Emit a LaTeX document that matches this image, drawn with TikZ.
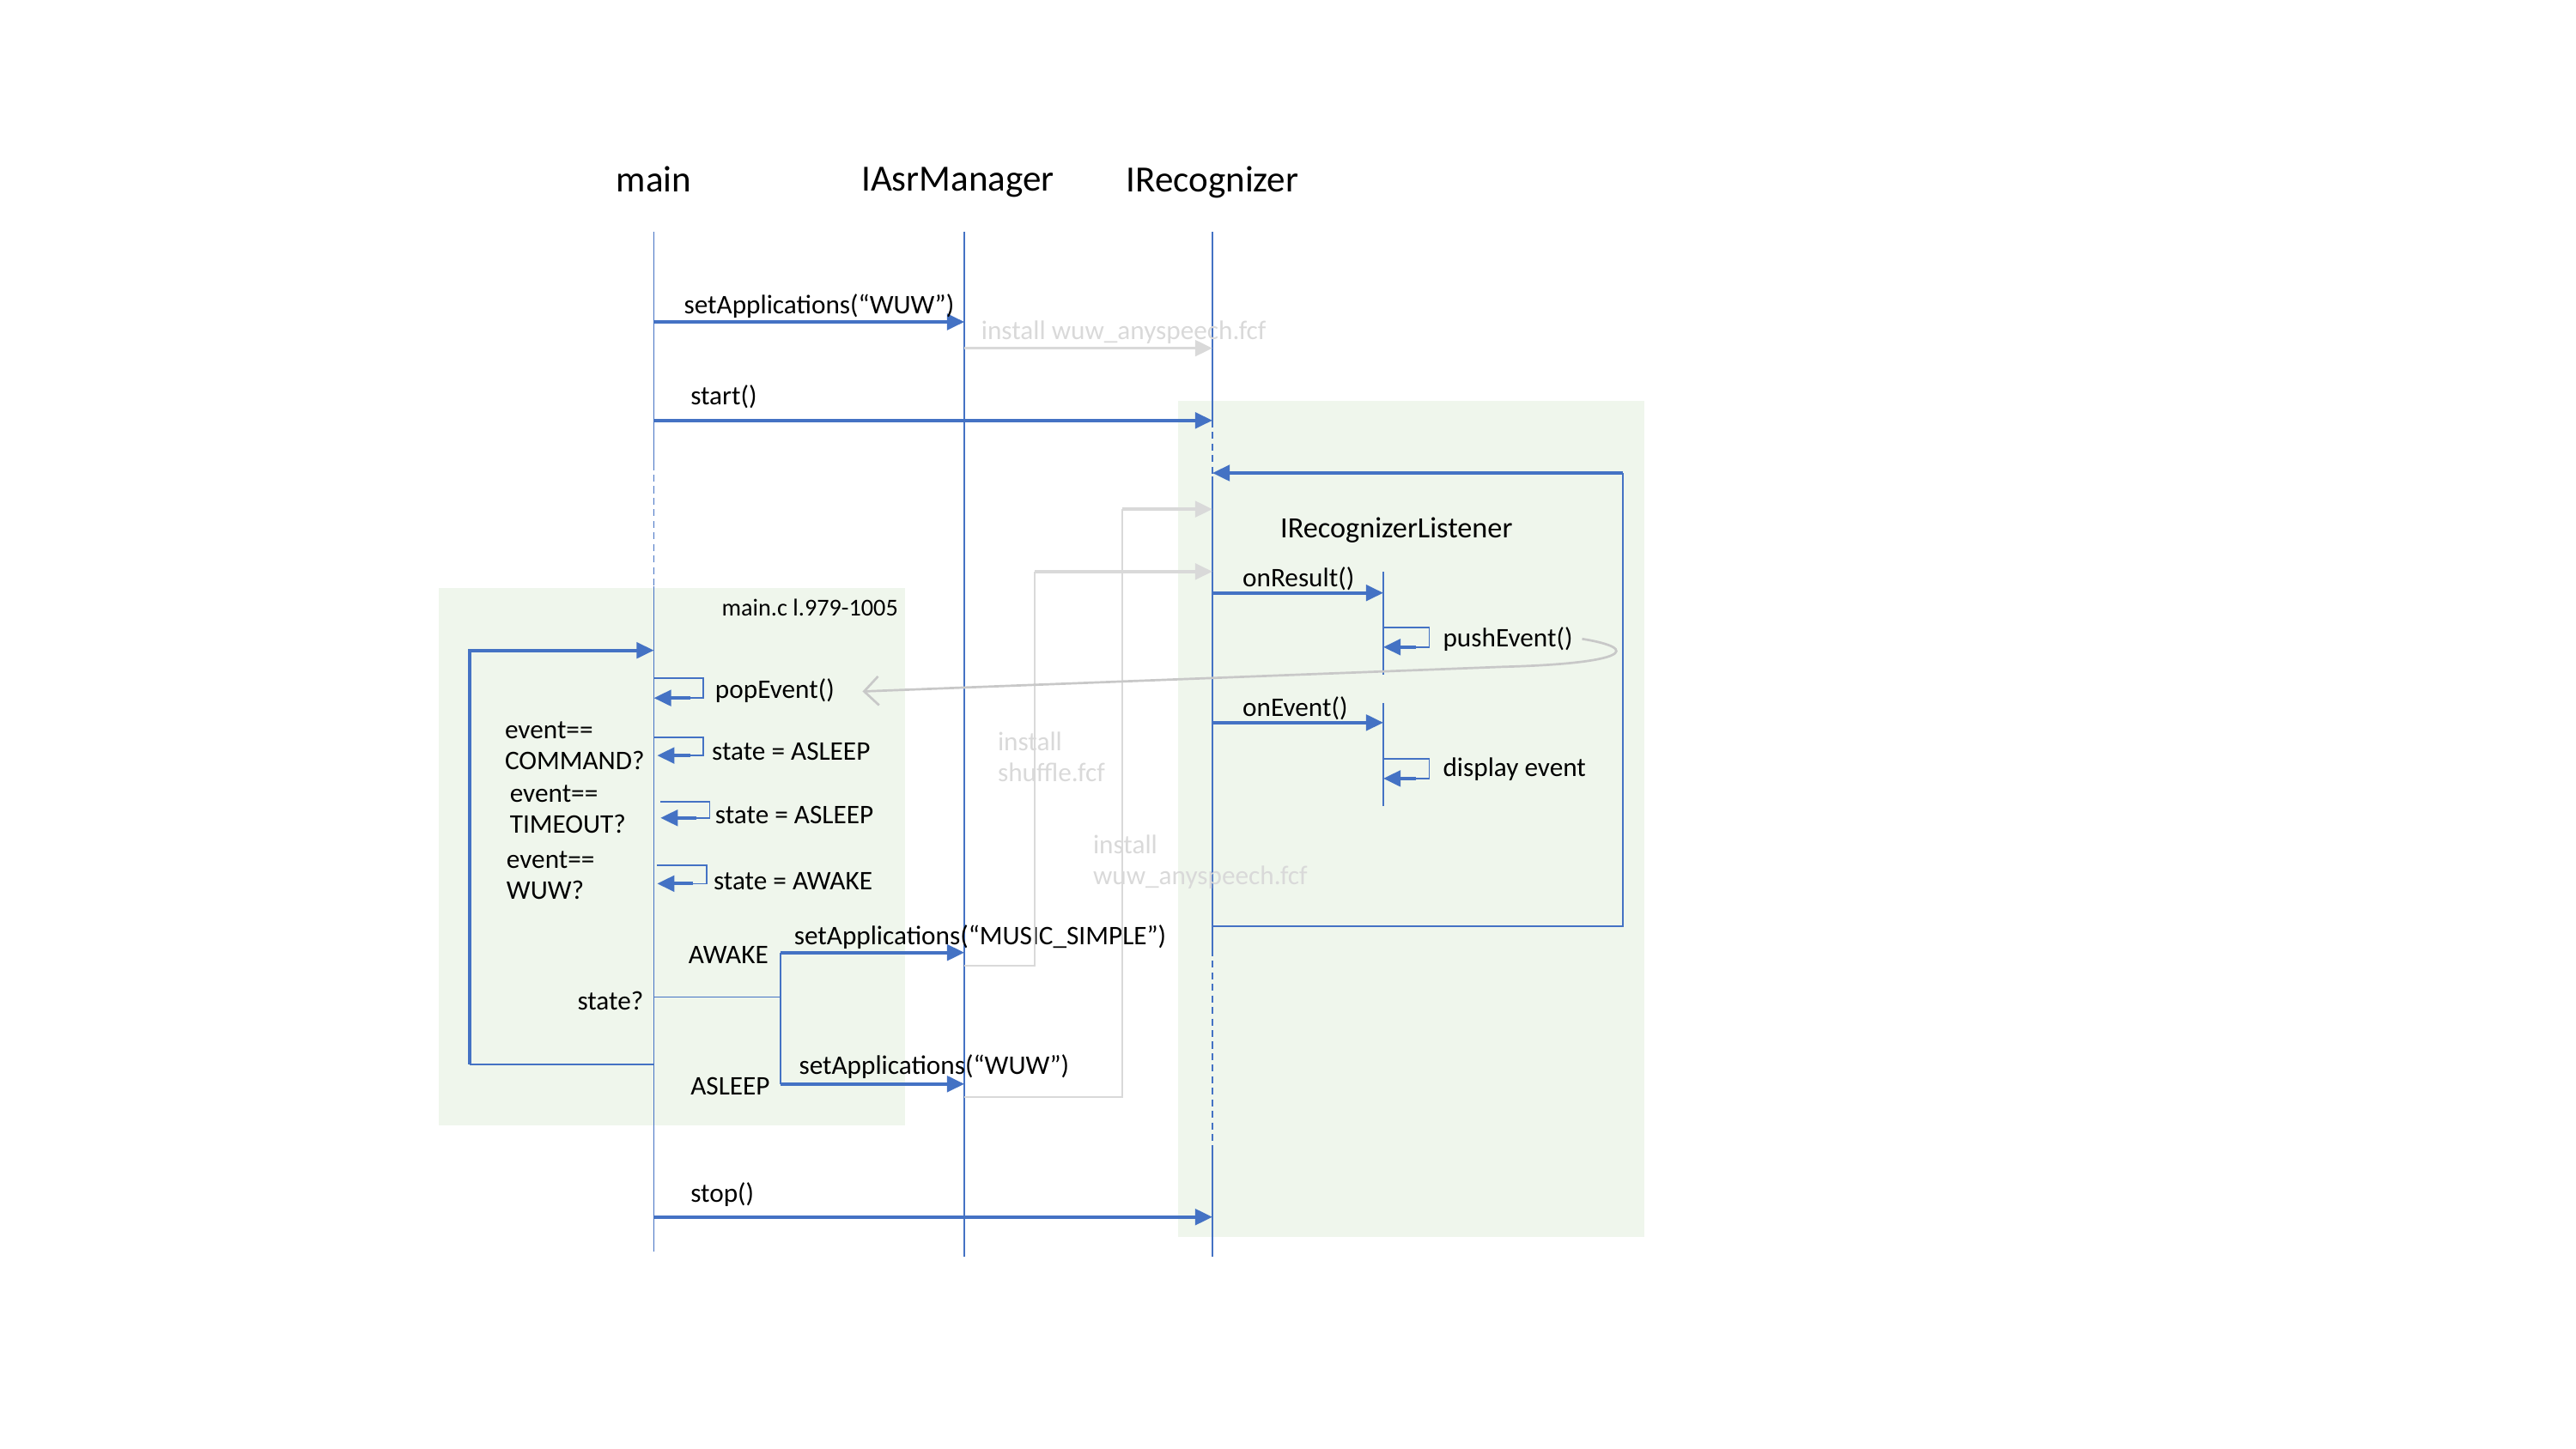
\documentclass[tikz,border=0pt]{standalone}
\usepackage{fontspec}
\setmainfont{Carlito}
\usetikzlibrary{arrows.meta, positioning, calc}
\definecolor{lineblue}{RGB}{68,114,196}
\definecolor{zonegreen}{RGB}{239,246,236}
\definecolor{ghostgray}{RGB}{217,217,217}
\definecolor{curvegray}{RGB}{200,200,200}

\begin{document}
\begin{tikzpicture}[x=0.02cm, y=-0.02cm,
    hdr/.style={font=\fontsize{12.8}{15}\selectfont, inner sep=0pt},
    lbl/.style={font=\fontsize{9.3}{10.8}\selectfont, anchor=west, inner sep=0pt, align=left, yshift=-0.8pt},
    ghosttext/.style={lbl, text=ghostgray},
    lifeline/.style={draw=lineblue, line width=0.5pt},
    dashline/.style={lifeline, dash pattern=on 2.4pt off 1.6pt},
    msg/.style={draw=lineblue, line width=1.1pt, -{Triangle[length=6pt,width=5.5pt]}},
    ghost/.style={draw=ghostgray, line width=1.1pt, -{Triangle[length=6pt,width=5.5pt]}},
    ghostline/.style={draw=ghostgray, line width=0.6pt},
    zone/.style={fill=zonegreen, draw=none}]

    \useasboundingbox (0,0) rectangle (1568,882);

    % --- Bereiche ---
    \fill[zone] (267,358) rectangle (551,685);
    \fill[zone] (717,244) rectangle (1001,753);
    \node[font=\fontsize{8.4}{10}\selectfont, inner sep=0pt] (srcref) at (493,370) {main.c l.979-1005};

    % --- Teilnehmer ---
    \node[hdr] (main) at (398,109) {main};
    \node[hdr] (asr) at (583,111) {IAsrManager};
    \node[hdr] (rec) at (738,111) {IRecognizer};
    \coordinate (mainTop) at (398,141);
    \coordinate (asrTop) at (587,141);
    \coordinate (recTop) at (738,141);

    % --- Lebenslinien ---
    \draw[lifeline] (mainTop) -- (398,282);
    \draw[dashline] (398,282) -- (398,357);
    \draw[lifeline] (398,357) -- (398,762);
    \draw[lifeline] (asrTop) -- (587,765);
    \draw[lifeline] (recTop) -- (738,256);
    \draw[dashline] (738,256) -- (738,290);
    \draw[lifeline] (738,290) -- (738,578);
    \draw[dashline] (738,578) -- (738,700);
    \draw[lifeline] (738,700) -- (738,765);

    % --- Aufrufe oben ---
    \coordinate (w1a) at (398,196); \coordinate (w1b) at (587,196);
    \draw[msg] (w1a) -- (w1b);
    \node[lbl] (setwuw) at (416,185) {setApplications(“WUW”)};
    \coordinate (i1a) at (587,212); \coordinate (i1b) at (738,212);
    \draw[ghost] (i1a) -- (i1b);
    \node[ghosttext] (inst1) at (597,201) {install wuw\_anyspeech.fcf};
    \coordinate (s1a) at (398,256); \coordinate (s1b) at (738,256);
    \draw[msg] (s1a) -- (s1b);
    \node[lbl] (start) at (420,240) {start()};

    % --- Listener ---
    \coordinate (lsA) at (738,288); \coordinate (lsB) at (988,288);
    \coordinate (lsC) at (988,564); \coordinate (lsD) at (738,564);
    \draw[lifeline] (lsD) -- (lsC) -- (lsB);
    \draw[msg] (lsB) -- (lsA);
    \node[font=\fontsize{10.2}{12}\selectfont, inner sep=0pt] (listener) at (850,323) {IRecognizerListener};

    \coordinate (or1) at (738,361); \coordinate (or2) at (842,361);
    \draw[msg] (or1) -- (or2);
    \node[lbl] (onresult) at (756,351) {onResult()};
    \draw[lifeline] (842,348) -- (842,411);
    \draw[lifeline] (842,382) -- (870,382) -- (870,394) -- (862,394);
    \draw[msg] (862,394) -- (842,394);
    \node[lbl] (push) at (878,388) {pushEvent()};

    \coordinate (oe1) at (738,440); \coordinate (oe2) at (842,440);
    \draw[msg] (oe1) -- (oe2);
    \node[lbl] (onevent) at (756,430) {onEvent()};
    \draw[lifeline] (842,428) -- (842,491);
    \draw[lifeline] (842,462) -- (870,462) -- (870,474) -- (862,474);
    \draw[msg] (862,474) -- (842,474);
    \node[lbl] (display) at (878,467) {display event};

    % --- Schleife in main ---
    \coordinate (lpA) at (398,648); \coordinate (lpB) at (286,648);
    \coordinate (lpC) at (286,396); \coordinate (lpD) at (398,396);
    \draw[lifeline] (lpA) -- (lpB);
    \draw[msg] (lpB) -- (lpC) -- (lpD);

    \draw[lifeline] (398,413) -- (428,413) -- (428,425) -- (420,425);
    \draw[msg] (420,425) -- (398,425);
    \node[lbl] (pop) at (435,419) {popEvent()};
    \draw[lifeline] (398,449) -- (428,449) -- (428,460) -- (420,460);
    \draw[msg] (420,460) -- (400,460);
    \node[lbl] (st1) at (433,456) {state = ASLEEP};
    \draw[lifeline] (402,488) -- (432,488) -- (432,498) -- (424,498);
    \draw[msg] (424,498) -- (402,498);
    \node[lbl] (st2) at (435,495) {state = ASLEEP};
    \draw[lifeline] (400,527) -- (430,527) -- (430,538) -- (422,538);
    \draw[msg] (422,538) -- (400,538);
    \node[lbl] (st3) at (434,535) {state = AWAKE};

    \node[lbl] (evcmd) at (307,452.5) {event==\\COMMAND?};
    \node[lbl] (evto) at (310,491.5) {event==\\TIMEOUT?};
    \node[lbl] (evwuw) at (308,531.5) {event==\\WUW?};

    % --- Verzweigung state? ---
    \coordinate (brA) at (398,607); \coordinate (brB) at (475,607);
    \coordinate (brTop) at (475,580); \coordinate (brBot) at (475,660);
    \draw[lifeline] (brA) -- (brB);
    \draw[lifeline] (brTop) -- (brBot);
    \draw[msg] (brTop) -- (587,580);
    \draw[msg] (brBot) -- (587,660);
    \node[lbl, anchor=east] (stq) at (392,608) {state?};
    \node[lbl, anchor=east] (awake) at (468,580) {AWAKE};
    \node[lbl, anchor=east] (asleep) at (469,660) {ASLEEP};
    \node[lbl] (setmusic) at (483,569) {setApplications(“MUSIC\_SIMPLE”)};
    \node[lbl] (setwuw2) at (486,648) {setApplications(“WUW”)};

    % --- Installationen (grau) ---
    \draw[ghostline] (587,588) -- (630,588) -- (630,348);
    \draw[ghost] (630,348) -- (738,348);
    \node[ghosttext] (inst2) at (607,459.5) {install\\shuffle.fcf};
    \draw[ghostline] (587,668) -- (683,668) -- (683,310);
    \draw[ghost] (683,310) -- (738,310);
    \node[ghosttext] (inst3) at (665,523.5) {install\\wuw\_anyspeech.fcf};

    % --- Event-Weitergabe ---
    \draw[curvegray, line width=0.8pt, -{Straight Barb[length=5pt,width=10pt]}]
        (963,389) .. controls (1000,395) and (990,404) .. (915,406) -- (525,421);

    % --- stop ---
    \coordinate (sp1) at (398,741); \coordinate (sp2) at (738,741);
    \draw[msg] (sp1) -- (sp2);
    \node[lbl] (stop) at (420,726) {stop()};
\end{tikzpicture}
\end{document}
